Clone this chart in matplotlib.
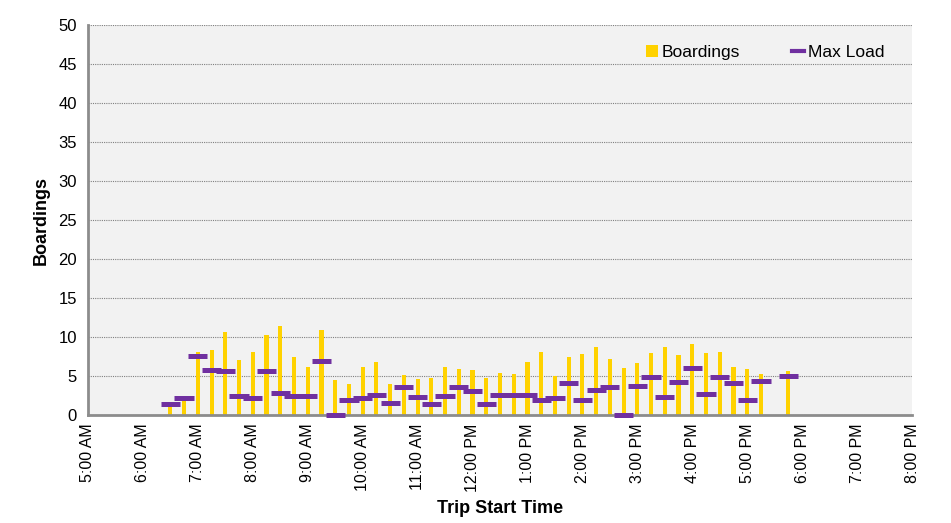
import numpy as np
import matplotlib
matplotlib.use("Agg")
import matplotlib.pyplot as plt
from matplotlib.lines import Line2D
from matplotlib.patches import Patch

plt.rcParams['font.family'] = ['Liberation Sans Narrow', 'Liberation Sans', 'DejaVu Sans']

# Trip start times (hours after midnight), 15-minute trips
trip_times = [6.5, 6.75, 7.0, 7.25, 7.5, 7.75, 8.0, 8.25, 8.5, 8.75, 9.0, 9.25, 9.5, 9.75,
              10.0, 10.25, 10.5, 10.75, 11.0, 11.25, 11.5, 11.75, 12.0, 12.25, 12.5, 12.75,
              13.0, 13.25, 13.5, 13.75, 14.0, 14.25, 14.5, 14.75, 15.0, 15.25, 15.5, 15.75,
              16.0, 16.25, 16.5, 16.75, 17.0, 17.25, 17.75]
boardings = [1.3, 2.5, 8.1, 8.3, 10.6, 7.1, 8.1, 10.3, 11.4, 7.4, 6.2, 10.9, 4.5, 4.0,
             6.1, 6.8, 4.0, 5.1, 4.6, 4.8, 6.2, 5.9, 5.8, 4.8, 5.4, 5.3,
             6.8, 8.1, 5.0, 7.4, 7.8, 8.7, 7.2, 6.0, 6.7, 8.0, 8.7, 7.7,
             9.1, 8.0, 8.1, 6.1, 5.9, 5.3, 5.7]
max_load = [1.4, 2.2, 7.6, 5.8, 5.6, 2.5, 2.2, 5.6, 2.8, 2.5, 2.5, 6.9, 0.0, 1.9,
            2.2, 2.6, 1.5, 3.6, 2.3, 1.4, 2.5, 3.6, 3.1, 1.4, 2.6, 2.6,
            2.6, 1.9, 2.2, 4.1, 1.9, 3.2, 3.6, 0.0, 3.7, 4.9, 2.3, 4.2,
            6.0, 2.7, 4.9, 4.1, 1.9, 4.4, 5.0]
tick_hours = list(range(5, 21))
tick_labels = ["5:00 AM", "6:00 AM", "7:00 AM", "8:00 AM", "9:00 AM", "10:00 AM", "11:00 AM",
               "12:00 PM", "1:00 PM", "2:00 PM", "3:00 PM", "4:00 PM", "5:00 PM", "6:00 PM",
               "7:00 PM", "8:00 PM"]

yellow = '#FFD200'
purple = '#7030A0'

fig = plt.figure(figsize=(9.51, 5.23), dpi=100)
ax = fig.add_axes([0.0925, 0.2065, 0.8665, 0.7455])
ax.set_facecolor('#F2F2F2')

ax.bar(trip_times, boardings, width=0.075, color=yellow, zorder=3)
dashes = ax.hlines(max_load, np.array(trip_times) - 0.175, np.array(trip_times) + 0.175,
                   colors=purple, linewidth=3.6, zorder=6)
dashes.set_clip_on(False)

ax.set_xlim(5, 20)
ax.set_ylim(0, 50)
ax.set_yticks(range(0, 51, 5))
ax.set_xticks(tick_hours)
ax.set_xticklabels(tick_labels, rotation=90, fontsize=11.5)
ax.tick_params(axis='y', labelsize=12, length=0, pad=8)
ax.tick_params(axis='x', length=0, pad=6)
ax.grid(axis='y', color='#808080', linestyle=(0, (1, 1)), linewidth=0.8, zorder=1)
ax.set_axisbelow(True)

for s in ['top', 'right']:
    ax.spines[s].set_visible(False)
for s in ['left', 'bottom']:
    ax.spines[s].set_color('#8C8C8C')
    ax.spines[s].set_linewidth(2)
    ax.spines[s].set_zorder(5)

ax.set_ylabel('Boardings', fontsize=13, fontweight='bold', labelpad=6)
ax.set_xlabel('Trip Start Time', fontsize=13, fontweight='bold', labelpad=6)

handles = [Patch(facecolor=yellow, edgecolor='none'),
           Line2D([0], [0], color=purple, linewidth=3)]
leg = ax.legend(handles, ['Boardings', 'Max Load'], loc='upper right', ncol=2, frameon=False,
                fontsize=12.5, bbox_to_anchor=(0.985, 0.99), handlelength=0.7, handleheight=0.7,
                handletextpad=0.2, columnspacing=3.0)

fig.savefig('out.png', dpi=100)
